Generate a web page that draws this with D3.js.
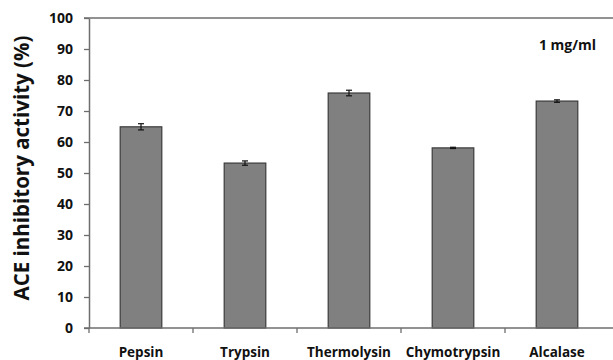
<!DOCTYPE html>
<html>
<head>
<meta charset="utf-8">
<script src="https://cdn.jsdelivr.net/npm/d3@7"></script>
<style>
  body { margin: 0; background: #fff; }
  svg text { font-family: "Open Sans", "Liberation Sans", sans-serif; font-weight: bold; fill: #111; }
</style>
</head>
<body>
<div id="chart"></div>
<script>
var width = 613,
    height = 360;

// data
var enzymes = ["Pepsin", "Trypsin", "Thermolysin", "Chymotrypsin", "Alcalase"];
var activity = [64.9, 53.2, 75.8, 58.1, 73.2];
var errors = [1.0, 0.7, 0.9, 0.2, 0.4];
var yTicks = [0, 10, 20, 30, 40, 50, 60, 70, 80, 90, 100];

var margin = {left: 89, right: 5, top: 18, bottom: 32};

var svg = d3.select("#chart").append("svg")
    .attr("width", width)
    .attr("height", height);

var x = d3.scaleBand()
    .domain(enzymes)
    .range([margin.left, 609])
    .paddingInner(0.6)
    .paddingOuter(0.3);

var y = d3.scaleLinear()
    .domain([0, 100])
    .range([height - margin.bottom, margin.top]);

// top border
svg.append("line")
    .attr("x1", margin.left - 5).attr("x2", width)
    .attr("y1", y(100)).attr("y2", y(100))
    .attr("stroke", "#6e6e6e").attr("stroke-width", 1.5);

var rows = enzymes.map(function(e, i) {
  return {name: e, value: activity[i], err: errors[i]};
});

svg.selectAll("rect.bar")
  .data(rows)
  .enter().append("rect")
    .attr("class", "bar")
    .attr("x", d => x(d.name))
    .attr("width", x.bandwidth())
    .attr("y", d => y(d.value))
    .attr("height", d => y(0) - y(d.value))
    .attr("fill", "#808080")
    .attr("stroke", "#3a3a3a")
    .attr("stroke-width", 1.2);

// error bars
var eb = svg.selectAll("g.err")
  .data(rows)
  .enter().append("g")
    .attr("class", "err")
    .attr("stroke", "#111")
    .attr("stroke-width", 1.2);

eb.append("line")
    .attr("x1", d => x(d.name) + x.bandwidth() / 2)
    .attr("x2", d => x(d.name) + x.bandwidth() / 2)
    .attr("y1", d => y(d.value + d.err))
    .attr("y2", d => y(d.value - d.err));
eb.append("line")
    .attr("x1", d => x(d.name) + x.bandwidth() / 2 - 3)
    .attr("x2", d => x(d.name) + x.bandwidth() / 2 + 3)
    .attr("y1", d => y(d.value + d.err))
    .attr("y2", d => y(d.value + d.err));
eb.append("line")
    .attr("x1", d => x(d.name) + x.bandwidth() / 2 - 3)
    .attr("x2", d => x(d.name) + x.bandwidth() / 2 + 3)
    .attr("y1", d => y(d.value - d.err))
    .attr("y2", d => y(d.value - d.err));

// y axis
var yAxis = svg.append("g")
    .attr("transform", "translate(" + margin.left + ",0)")
    .call(d3.axisLeft(y).tickValues(yTicks).tickSize(5).tickSizeOuter(0));
yAxis.select(".domain").attr("stroke", "#6e6e6e").attr("stroke-width", 1.5);
yAxis.selectAll(".tick line").attr("stroke", "#6e6e6e").attr("stroke-width", 1.3);
yAxis.selectAll(".tick text")
    .attr("x", -16)
    .style("font-size", "14px");

// x axis: ticks at band boundaries
var xAxis = svg.append("g")
    .attr("transform", "translate(0," + y(0) + ")");
xAxis.append("line")
    .attr("x1", margin.left - 5).attr("x2", width)
    .attr("y1", 0).attr("y2", 0)
    .attr("stroke", "#6e6e6e").attr("stroke-width", 1.5);
var step = x.step();
var bounds = d3.range(enzymes.length).map(i => margin.left + i * step);
xAxis.selectAll("line.tk")
  .data(bounds)
  .enter().append("line")
    .attr("class", "tk")
    .attr("x1", d => d).attr("x2", d => d)
    .attr("y1", 0).attr("y2", 5)
    .attr("stroke", "#6e6e6e").attr("stroke-width", 1.3);
xAxis.selectAll("text")
  .data(enzymes)
  .enter().append("text")
    .attr("x", d => x(d) + x.bandwidth() / 2)
    .attr("y", 29)
    .attr("text-anchor", "middle")
    .style("font-size", "13.5px")
    .text(d => d);

// y label
svg.append("text")
    .attr("transform", "translate(29,168) rotate(-90)")
    .attr("text-anchor", "middle")
    .style("font-size", "20.5px")
    .text("ACE inhibitory  activity (%)");

// concentration note
svg.append("text")
    .attr("x", 596)
    .attr("y", 50)
    .attr("text-anchor", "end")
    .style("font-size", "14px")
    .text("1 mg/ml");
</script>
</body>
</html>
